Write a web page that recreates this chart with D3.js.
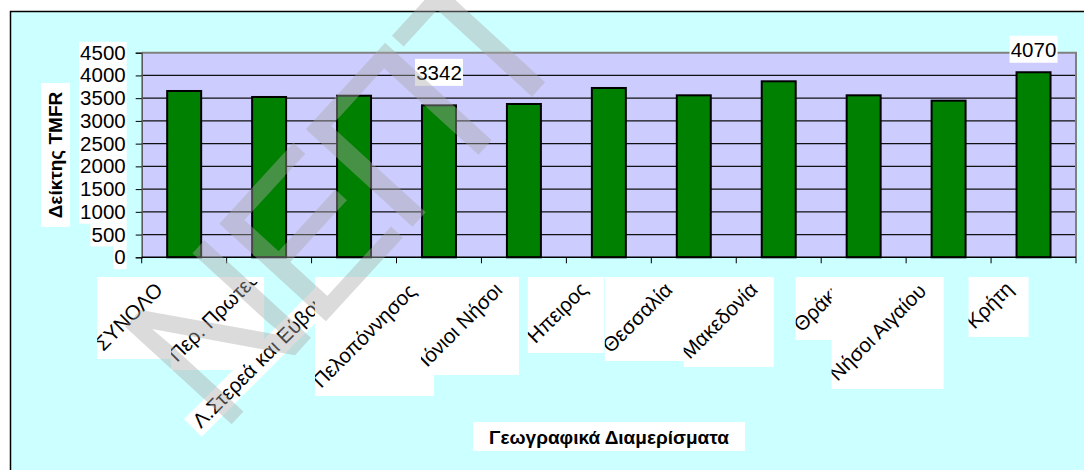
<!DOCTYPE html>
<html>
<head>
<meta charset="utf-8">
<script src="https://cdn.jsdelivr.net/npm/d3@7"></script>
<style>
  body { margin: 0; background: #fff; }
  svg { display: block; }
</style>
</head>
<body>
<script>
// data
const categories = ["ΣΥΝΟΛΟ", "Περ. Πρωτεύουσας", "Λ.Στερεά και Εύβοια", "Πελοπόννησος",
  "Ιόνιοι Νήσοι", "Ήπειρος", "Θεσσαλία", "Μακεδονία", "Θράκη", "Νήσοι Αιγαίου", "Κρήτη"];
const values = [3658, 3526, 3554, 3342, 3372, 3724, 3563, 3871, 3563, 3445, 4070];
const yTicks = [0, 500, 1000, 1500, 2000, 2500, 3000, 3500, 4000, 4500];
const labelled = ["Πελοπόννησος", "Κρήτη"];
const yTitle = "Δείκτης TMFR";
const xTitle = "Γεωγραφικά Διαμερίσματα";

const width = 1084, height = 470;
const font = "'Liberation Sans', Arial, sans-serif";
const plot = { left: 141.7, right: 1076, top: 52.7, bottom: 257.3 };

const svg = d3.select("body").append("svg")
  .attr("width", width)
  .attr("height", height);

// chart area
svg.append("rect")
  .attr("x", 10.5).attr("y", 11.5)
  .attr("width", 1100).attr("height", 500)
  .attr("fill", "#ccffff")
  .attr("stroke", "#000")
  .attr("stroke-width", 1.5);

const x = d3.scaleBand().domain(categories)
  .range([plot.left, plot.right])
  .paddingInner(0.6).paddingOuter(0.3);
const xb = d3.scaleBand().domain(categories).range([plot.left, plot.right]);
const y = d3.scaleLinear().domain([0, 4500]).range([plot.bottom, plot.top]);

// plot area
svg.append("rect")
  .attr("x", plot.left).attr("y", plot.top)
  .attr("width", plot.right - plot.left)
  .attr("height", plot.bottom - plot.top)
  .attr("fill", "#ccccff");

// gridlines
svg.append("g").selectAll("line")
  .data(yTicks.filter(d => d > 0 && d < 4500))
  .join("line")
  .attr("x1", plot.left).attr("x2", plot.right)
  .attr("y1", d => y(d)).attr("y2", d => y(d))
  .attr("stroke", "#111").attr("stroke-width", 1.2);

// plot border top / right
svg.append("path")
  .attr("d", `M${plot.left},${y(4500)}H${plot.right}V${plot.bottom}`)
  .attr("fill", "none").attr("stroke", "#808080").attr("stroke-width", 2);

// bars
svg.append("g").selectAll("rect")
  .data(values)
  .join("rect")
  .attr("x", (d, i) => x(categories[i]))
  .attr("y", d => y(d))
  .attr("width", x.bandwidth())
  .attr("height", d => y(0) - y(d))
  .attr("fill", "#008000")
  .attr("stroke", "#000")
  .attr("stroke-width", 2);

// y axis
const yAxis = svg.append("g")
  .attr("transform", `translate(${plot.left},0)`)
  .call(d3.axisLeft(y).tickValues(yTicks).tickSize(6).tickPadding(10).tickFormat(d3.format("d")));
yAxis.select(".domain").attr("stroke", "#555").attr("stroke-width", 1.5);
yAxis.selectAll(".tick line").attr("stroke", "#000");
yAxis.selectAll(".tick text")
  .attr("font-family", font).attr("font-size", 20.5).attr("fill", "#000");
yAxis.selectAll(".tick").each(function () {
  const t = d3.select(this).select("text");
  const bb = t.node().getBBox();
  d3.select(this).insert("rect", "text")
    .attr("x", bb.x - 1).attr("y", -11.4)
    .attr("width", bb.width + 2).attr("height", 22.8)
    .attr("fill", "#fff");
});

// x axis line and ticks at category boundaries
svg.append("line")
  .attr("x1", plot.left).attr("x2", plot.right)
  .attr("y1", y(0)).attr("y2", y(0))
  .attr("stroke", "#000").attr("stroke-width", 1.5);
svg.append("g").selectAll("line")
  .data(categories.map(c => xb(c)).concat([plot.right]))
  .join("line")
  .attr("x1", d => d).attr("x2", d => d)
  .attr("y1", y(0)).attr("y2", y(0) + 6)
  .attr("stroke", "#000");

// category labels, rotated, each on its own white box
const boxSide = [82, 93, 0, 119, 98, 76, 84, 90, 63, 112, 60];
const boxTop = 277;
const labelSize = 20.5;
const defs = svg.append("defs");
const xl = svg.append("g");
categories.forEach((c, i) => {
  const g = xl.append("g");
  if (i === 2) {
    // this one gets a rotated strip instead of a box
    const tg = g.append("g").attr("transform", "translate(201,429) rotate(-45)");
    tg.append("rect").attr("x", -5).attr("y", -19).attr("width", 200).attr("height", 25).attr("fill", "#fff");
    tg.append("text").text(c)
      .attr("font-family", font).attr("font-size", labelSize).attr("fill", "#000");
    return;
  }
  const s = boxSide[i];
  const x2 = xb(c) + xb.bandwidth() / 2 - 5;
  const x1 = x2 - s;
  const y2 = boxTop + s;
  defs.append("clipPath").attr("id", "clip" + i)
    .append("rect").attr("x", x1).attr("y", boxTop + 5).attr("width", s - 4).attr("height", s - 5);
  g.append("rect").attr("x", x1).attr("y", boxTop).attr("width", s).attr("height", s).attr("fill", "#fff");
  g.append("g").attr("clip-path", `url(#clip${i})`)
    .append("text")
    .attr("transform", `translate(${x1 + 6},${y2 - 7}) rotate(-45)`)
    .attr("font-family", font).attr("font-size", labelSize).attr("fill", "#000")
    .text(c);
});

// value labels
const labelOffset = { "Πελοπόννησος": -33, "Κρήτη": -23 };
labelled.forEach(c => {
  const i = categories.indexOf(c);
  const cx = x(c) + x.bandwidth() / 2;
  const cy = y(values[i]) + labelOffset[c];
  svg.append("rect").attr("x", cx - 24).attr("y", cy - 13.5).attr("width", 48).attr("height", 27).attr("fill", "#fff");
  svg.append("text").attr("x", cx).attr("y", cy).attr("dy", "0.36em")
    .attr("text-anchor", "middle")
    .attr("font-family", font).attr("font-size", 20.5).attr("fill", "#000")
    .text(values[i]);
});

// axis titles
svg.append("rect").attr("x", 41).attr("y", 83).attr("width", 29).attr("height", 144).attr("fill", "#fff");
svg.append("text")
  .attr("transform", "translate(55.5,155) rotate(-90)")
  .attr("dy", "0.36em").attr("text-anchor", "middle")
  .attr("font-family", font).attr("font-size", 19).attr("font-weight", "bold")
  .text(yTitle);

svg.append("rect").attr("x", 473).attr("y", 422).attr("width", 272).attr("height", 29).attr("fill", "#fff");
svg.append("text")
  .attr("x", 609).attr("y", 437).attr("dy", "0.36em").attr("text-anchor", "middle")
  .attr("font-family", font).attr("font-size", 19).attr("font-weight", "bold")
  .text(xTitle);

// watermark
svg.append("text")
  .attr("transform", "translate(220,437) rotate(-47.5)")
  .attr("font-family", font).attr("font-size", 210)
  .attr("letter-spacing", -12)
  .attr("fill", "rgb(170,170,170)").attr("fill-opacity", 0.42)
  .text("ΝΕΠΤ");
</script>
</body>
</html>
